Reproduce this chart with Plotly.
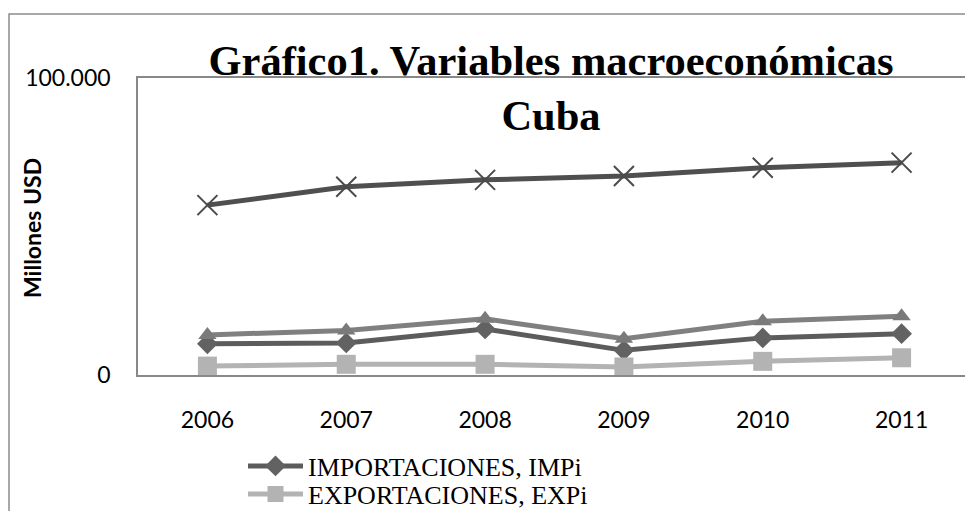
import plotly.graph_objects as go

# ---- data ----
years = ["2006", "2007", "2008", "2009", "2010", "2011"]
importaciones = [10500, 10800, 15500, 8300, 12500, 13900]
exportaciones = [3000, 3600, 3600, 2700, 4600, 5800]
serie3 = [13500, 15000, 18900, 12200, 18100, 19800]
serie4 = [57200, 63400, 65700, 67000, 69800, 71500]
y_tickvals = [0, 100000]
y_ticktext = ["0", "100.000"]

# the page body adds an 8px offset; all positions below are page pixels
OFF = 8
W, H = 973, 511
ML, MR, MT, MB = 130, 10, 70, 144
PW = W - ML - MR
PH = H - MT - MB


def px_x(px):
    return (px - OFF - ML) / PW


def px_y(py):
    return (H - MB - (py - OFF)) / PH


fig = go.Figure()

fig.add_trace(go.Scatter(
    x=years, y=importaciones, mode="lines+markers", name="IMPORTACIONES, IMPi",
    line=dict(color="#5c5c5c", width=5),
    marker=dict(symbol="diamond", size=16, color="#626262"),
    legend="legend",
))
fig.add_trace(go.Scatter(
    x=years, y=exportaciones, mode="lines+markers", name="EXPORTACIONES, EXPi",
    line=dict(color="#b3b3b3", width=5),
    marker=dict(symbol="square", size=19, color="#b3b3b3"),
    legend="legend2",
))
fig.add_trace(go.Scatter(
    x=years, y=serie3, mode="lines+markers", name="Serie 3",
    line=dict(color="#808080", width=5),
    marker=dict(symbol="triangle-up", size=16, color="#7a7a7a"),
    showlegend=False,
))
fig.add_trace(go.Scatter(
    x=years, y=serie4, mode="lines+markers", name="Serie 4",
    line=dict(color="#4f4f4f", width=5),
    marker=dict(symbol="x-thin", size=20, color="#4a4a4a",
                line=dict(width=2, color="#4a4a4a")),
    showlegend=False,
))

axis_font = dict(family="Lato", size=23, color="#000000")
legend_font = dict(family="Liberation Serif", size=26, color="#000000")
fig.update_layout(
    width=W, height=H,
    margin=dict(l=ML, r=MR, t=MT, b=MB, autoexpand=False),
    paper_bgcolor="white", plot_bgcolor="white",
    title=dict(
        text="<b>Gráfico1. Variables macroeconómicas<br>Cuba</b>",
        font=dict(family="Liberation Serif", size=42.5, color="#000000"),
        x=px_x(551), xref="paper", xanchor="center",
        y=0.869, yref="container", yanchor="top",
    ),
    xaxis=dict(
        type="category", range=[-0.5, 5.5],
        showline=True, linecolor="#888888", linewidth=1.5, mirror=True,
        showgrid=False, ticks="", tickfont=axis_font, ticklabelstandoff=24,
    ),
    yaxis=dict(
        range=[0, 100000], tickvals=y_tickvals, ticktext=y_ticktext,
        showline=True, linecolor="#888888", linewidth=1.5, mirror=False,
        showgrid=False, zeroline=False, ticks="", tickfont=axis_font,
        ticklabelstandoff=21,
    ),
    legend=dict(
        x=px_x(243), xanchor="left", y=px_y(466), yanchor="middle",
        font=legend_font, bgcolor="rgba(0,0,0,0)", borderwidth=0, itemwidth=55,
    ),
    legend2=dict(
        x=px_x(243), xanchor="left", y=px_y(494), yanchor="middle",
        font=legend_font, bgcolor="rgba(0,0,0,0)", borderwidth=0, itemwidth=55,
    ),
    annotations=[dict(
        text="<b>Millones USD</b>", textangle=-90,
        x=px_x(32), y=px_y(228), xref="paper", yref="paper",
        xanchor="center", yanchor="middle", showarrow=False,
        font=dict(family="Lato", size=23, color="#000000"),
    )],
    shapes=[dict(
        type="rect", xref="paper", yref="paper",
        x0=px_x(9), x1=1.3, y0=-1.0, y1=px_y(14),
        line=dict(color="#8c8c8c", width=1.5), fillcolor="rgba(0,0,0,0)",
        layer="below",
    )],
)

fig.write_html("out.html")
